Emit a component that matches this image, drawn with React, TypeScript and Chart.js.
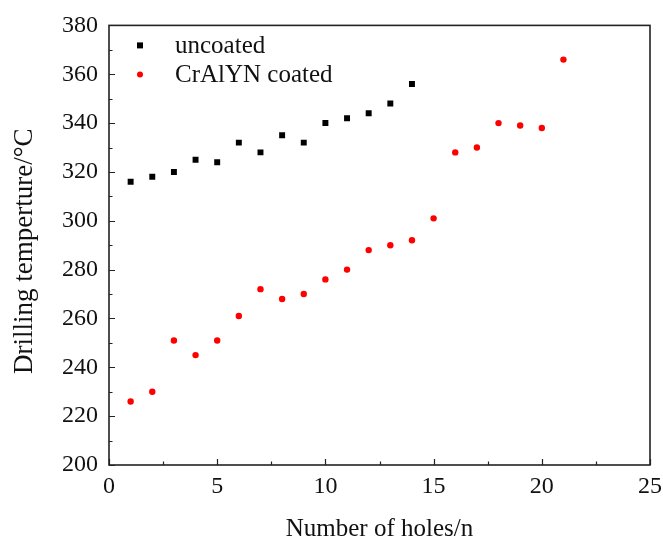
import React, { useEffect, useRef } from "react";
import { Chart, registerables } from "chart.js";

Chart.register(...registerables);

// Hole number for each measurement
const holesUncoated = [1, 2, 3, 4, 5, 6, 7, 8, 9, 10, 11, 12, 13, 14];
const tempUncoated = [316, 318, 320, 325, 324, 332, 328, 335, 332, 340, 342, 344, 348, 356];

const holesCoated = [1, 2, 3, 4, 5, 6, 7, 8, 9, 10, 11, 12, 13, 14, 15, 16, 17, 18, 19, 20, 21];
const tempCoated = [226, 230, 251, 245, 251, 261, 272, 268, 270, 276, 280, 288, 290, 292, 301, 328, 330, 340, 339, 338, 366];

const seriesNames = ["uncoated", "CrAlYN coated"];
const xTitle = "Number of holes/n";
const yTitle = "Drilling temperture/\u00B0C";

const FONT = "'Liberation Serif', 'Times New Roman', serif";

// Frame, inward ticks (major + minor), axis titles and an in-plot legend
const framePlugin = {
  id: "frame",
  afterDatasetsDraw(chart: any) {
    const { ctx, chartArea } = chart;
    const { left, right, top, bottom } = chartArea;
    const xs = chart.scales.x;
    const ys = chart.scales.y;
    ctx.save();
    ctx.strokeStyle = "#222";
    ctx.lineWidth = 1.6;
    ctx.strokeRect(left, top, right - left, bottom - top);
    ctx.lineWidth = 1.2;
    ctx.beginPath();
    for (let v = 0; v <= 25; v += 2.5) {
      const px = Math.round(xs.getPixelForValue(v)) + 0.5;
      const len = v % 5 === 0 ? 6 : 3.5;
      ctx.moveTo(px, bottom);
      ctx.lineTo(px, bottom - len);
    }
    for (let v = 200; v <= 380; v += 10) {
      const py = Math.round(ys.getPixelForValue(v)) + 0.5;
      const len = v % 20 === 0 ? 6 : 3.5;
      ctx.moveTo(left, py);
      ctx.lineTo(left + len, py);
    }
    ctx.stroke();

    // legend
    const lx = left + 31;
    const rows = [top + 20, top + 49];
    ctx.fillStyle = "#000";
    ctx.fillRect(lx - 3, rows[0] - 3, 6, 6);
    ctx.fillStyle = "#ff0000";
    ctx.beginPath();
    ctx.arc(lx, rows[1], 3, 0, Math.PI * 2);
    ctx.fill();
    ctx.fillStyle = "#111";
    ctx.font = `25px ${FONT}`;
    ctx.textBaseline = "alphabetic";
    ctx.textAlign = "left";
    ctx.fillText(seriesNames[0], lx + 35, rows[0] + 8);
    ctx.fillText(seriesNames[1], lx + 35, rows[1] + 8);

    // axis titles
    ctx.textAlign = "center";
    ctx.font = `25px ${FONT}`;
    ctx.fillText(xTitle, (left + right) / 2, 536);
    ctx.translate(32, (top + bottom) / 2 + 6);
    ctx.rotate(-Math.PI / 2);
    ctx.font = `27px ${FONT}`;
    ctx.fillText(yTitle, 0, 0);
    ctx.restore();
  },
};

export default function App() {
  const ref = useRef<HTMLCanvasElement | null>(null);

  useEffect(() => {
    document.body.style.margin = "0";
    const canvas = ref.current;
    if (!canvas) return;
    const chart = new Chart(canvas, {
      type: "scatter",
      data: {
        datasets: [
          {
            label: seriesNames[0],
            data: holesUncoated.map((x, i) => ({ x, y: tempUncoated[i] })),
            pointStyle: "rect",
            pointRadius: 4.2,
            backgroundColor: "#000",
            borderColor: "#000",
            borderWidth: 0,
          },
          {
            label: seriesNames[1],
            data: holesCoated.map((x, i) => ({ x, y: tempCoated[i] })),
            pointStyle: "circle",
            pointRadius: 3.2,
            backgroundColor: "#ff0000",
            borderColor: "#ff0000",
            borderWidth: 0,
          },
        ],
      },
      options: {
        animation: false,
        responsive: false,
        devicePixelRatio: 1,
        layout: { padding: { top: 25, right: 0, left: 0, bottom: 0 } },
        plugins: {
          legend: { display: false },
          tooltip: { enabled: false },
        },
        scales: {
          x: {
            type: "linear",
            min: 0,
            max: 25,
            grid: { display: false, drawTicks: false },
            border: { display: false },
            ticks: {
              stepSize: 5,
              padding: 7,
              color: "#111",
              font: { family: FONT, size: 24 },
            },
            afterFit: (s: any) => {
              s.height = 76;
              s.paddingLeft = 0;
              s.paddingRight = 13;
            },
          },
          y: {
            type: "linear",
            min: 200,
            max: 380,
            grid: { display: false, drawTicks: false },
            border: { display: false },
            ticks: {
              stepSize: 20,
              padding: 11,
              color: "#111",
              font: { family: FONT, size: 24 },
            },
            afterFit: (s: any) => {
              s.width = 109;
            },
          },
        },
      },
      plugins: [framePlugin],
    });
    return () => chart.destroy();
  }, []);

  return (
    <div style={{ position: "absolute", left: 0, top: 0, width: 663, height: 541, background: "#fff" }}>
      <canvas ref={ref} width={663} height={541} style={{ width: 663, height: 541 }} />
    </div>
  );
}
